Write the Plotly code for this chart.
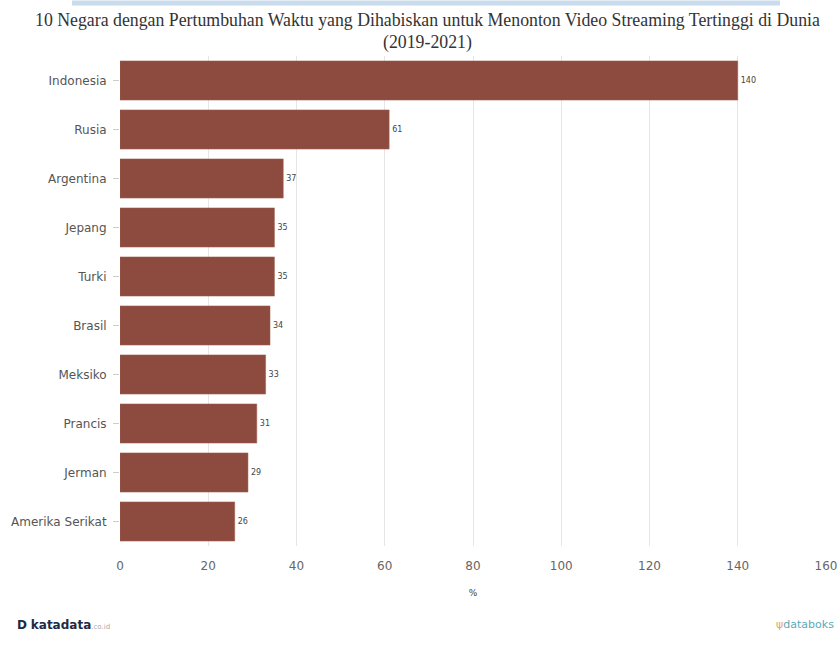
import plotly.graph_objects as go

countries = ["Indonesia", "Rusia", "Argentina", "Jepang", "Turki", "Brasil",
             "Meksiko", "Prancis", "Jerman", "Amerika Serikat"]
values = [140, 61, 37, 35, 35, 34, 33, 31, 29, 26]
x_ticks = [0, 20, 40, 60, 80, 100, 120, 140, 160]

title_line1 = "10 Negara dengan Pertumbuhan Waktu yang Dihabiskan untuk Menonton Video Streaming Tertinggi di Dunia"
title_line2 = "(2019-2021)"

W, H = 840, 659
L, R, T, B = 120, 14, 55.5, 113
PH = H - T - B

def py(y):
    return (H - B - y) / PH

def px(x):
    return (x - L) / (W - L - R)

fig = go.Figure()
fig.add_trace(go.Bar(
    x=values, y=countries, orientation="h",
    marker=dict(color="#8d4b40", line=dict(color="#a0604f", width=0.5)),
    text=[str(v) for v in values], textposition="outside",
    textfont=dict(family="DejaVu Sans", size=8, color="#444"),
    cliponaxis=False,
))

fig.update_layout(
    width=W, height=H,
    margin=dict(l=L, r=R, t=T, b=B),
    paper_bgcolor="white", plot_bgcolor="white",
    bargap=0.2,
    showlegend=False,
    xaxis=dict(
        range=[0, 160], tickvals=x_ticks,
        showgrid=True, gridcolor="#e6e6e6", gridwidth=1,
        zeroline=False, showline=False,
        tickfont=dict(family="DejaVu Sans", size=12, color="#666"),
        ticks="", ticklen=0, ticklabelstandoff=11,
        automargin=False,
        title=dict(text="%", font=dict(family="DejaVu Sans", size=9, color="#444"), standoff=17),
    ),
    yaxis=dict(
        categoryorder="array", categoryarray=countries[::-1],
        showgrid=False, zeroline=False, showline=False,
        ticks="outside", ticklen=6, tickcolor="#cccccc",
        tickfont=dict(family="DejaVu Sans", size=12, color="#555"),
        ticklabelstandoff=4,
        automargin=False,
    ),
    shapes=[dict(
        type="rect", xref="paper", yref="paper",
        x0=px(72), x1=px(780), y0=py(5), y1=py(0),
        fillcolor="#c9dcee", line=dict(width=0), layer="below",
    )],
    annotations=[
        dict(text=title_line1, xref="paper", yref="paper", x=px(427), y=py(19),
             xanchor="center", yanchor="middle", showarrow=False,
             font=dict(family="Liberation Serif", size=17.8, color="#333")),
        dict(text=title_line2, xref="paper", yref="paper", x=px(427), y=py(42),
             xanchor="center", yanchor="middle", showarrow=False,
             font=dict(family="Liberation Serif", size=17.8, color="#333")),
        dict(text="<b>D</b> <b>katadata</b><span style='font-size:7px;color:#aaa'>.co.id</span>",
             xref="paper", yref="paper", x=px(15), y=py(625), xanchor="left", yanchor="middle",
             showarrow=False, font=dict(family="DejaVu Sans", size=12, color="#1e2a44")),
        dict(text="<span style='color:#e8a25a'>ψ</span>databoks",
             xref="paper", yref="paper", x=px(836), y=py(625), xanchor="right", yanchor="middle",
             showarrow=False, font=dict(family="DejaVu Sans", size=11, color="#5aaab8")),
    ],
)

fig.write_html("out.html", config={"displayModeBar": False},
               post_script="document.body.style.margin='0';")
